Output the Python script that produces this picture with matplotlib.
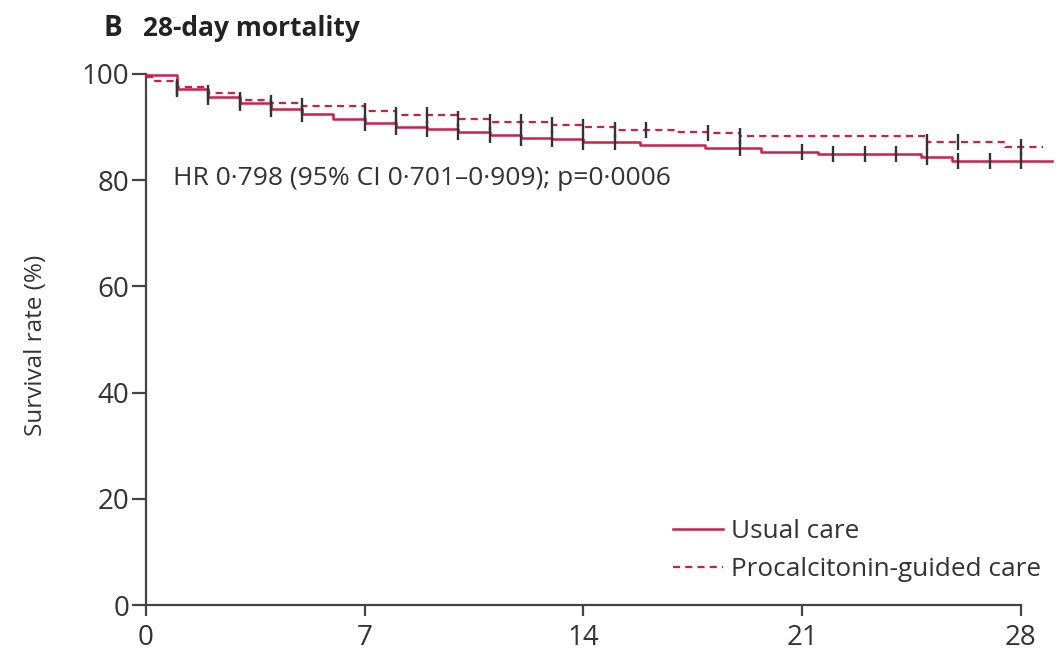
import numpy as np
import matplotlib
matplotlib.use("Agg")
import matplotlib.pyplot as plt
from matplotlib.lines import Line2D

plt.rcParams['font.family'] = ['Open Sans', 'DejaVu Sans']

# Usual care (step times in days, survival %)
usual_t = [0, 1, 2, 3, 4, 5, 6, 7, 8, 9, 10, 11, 12, 13, 14, 15.8, 17.9, 19.7, 21.5, 24.8, 25.8]
usual_s = [99.8, 97.1, 95.7, 94.5, 93.5, 92.4, 91.6, 90.7, 90.1, 89.6, 89.1, 88.5, 87.9, 87.7, 87.2,
           86.6, 86.0, 85.4, 85.0, 84.3, 83.6]
usual_censor = [1, 2, 3, 4, 5, 7, 8, 9, 10, 11, 12, 13, 14, 15, 19, 21, 22, 23, 24, 25, 26, 27, 28]

# Procalcitonin-guided care
pct_t = [0, 0.3, 1, 2, 3, 4, 5, 7, 8, 10, 11, 13, 14, 15, 17, 18, 19, 25, 27.5]
pct_s = [99.5, 98.7, 97.6, 96.4, 95.1, 94.6, 93.9, 93.1, 92.3, 91.5, 91.0, 90.4, 90.1, 89.5, 89.1,
         88.8, 88.4, 87.1, 86.3]
pct_censor = [1, 2, 3, 4, 5, 7, 8, 9, 10, 11, 12, 13, 14, 15, 16, 18, 19, 25, 26, 28]

usual_end = 29.0
pct_end = 28.7

x_ticks = [0, 7, 14, 21, 28]
y_ticks = [0, 20, 40, 60, 80, 100]

red = '#cc1f4a'
grey = '#444444'
txt = '#333333'

def step_value(ts, ss, x):
    idx = np.searchsorted(np.asarray(ts), np.asarray(x), side='right') - 1
    return np.asarray(ss)[idx]

fig = plt.figure(figsize=(10.63, 6.53), dpi=100)
ax = fig.add_axes([146/1063, 1 - 605/653, 906/1063, (605-74)/653])

ut = usual_t + [usual_end]
us = usual_s + [usual_s[-1]]
pt = pct_t + [pct_end]
ps = pct_s + [pct_s[-1]]
dash = (0, (3.2, 2.3))
ax.step(ut, us, where='post', color=red, lw=1.8, clip_on=False, zorder=3)
ax.step(pt, ps, where='post', color=red, lw=1.6, ls=dash, clip_on=False, zorder=3)

ax.plot(usual_censor, step_value(usual_t, usual_s, usual_censor), ls='none', marker='|',
        ms=11, mew=1.7, color='#333333', zorder=4, clip_on=False)
ax.plot(pct_censor, step_value(pct_t, pct_s, pct_censor), ls='none', marker='|',
        ms=11, mew=1.7, color='#333333', zorder=4, clip_on=False)

ax.set_xlim(0, 29)
ax.set_ylim(0, 100)
ax.set_xticks(x_ticks)
ax.set_yticks(y_ticks)
for s in ['top', 'right']:
    ax.spines[s].set_visible(False)
for s in ['left', 'bottom']:
    ax.spines[s].set_color(grey)
    ax.spines[s].set_linewidth(1.6)
ax.spines['bottom'].set_bounds(0, 28)
ax.tick_params(axis='y', direction='out', length=10, width=1.6, color=grey,
               labelsize=20, labelcolor=txt, pad=2)
ax.tick_params(axis='x', direction='out', length=8, width=1.6, color=grey,
               labelsize=20, labelcolor=txt, pad=6)

ax.set_ylabel('Survival rate (%)', fontsize=17.5, color=txt)
ax.yaxis.set_label_coords(-98/906, 0.488)

ax.text(0.85, 80.3, 'HR 0·798 (95% CI 0·701–0·909); p=0·0006', fontsize=19,
        color=txt, va='center', ha='left')

fig.text(103/1063, 1 - 36/653, 'B', fontsize=20, fontweight='bold', color='#222222', va='baseline')
fig.text(143/1063, 1 - 36/653, '28-day mortality', fontsize=19, fontweight='bold', color='#222222',
         va='baseline')

handles = [Line2D([], [], color=red, lw=1.8),
           Line2D([], [], color=red, lw=1.6, ls=dash)]
leg = ax.legend(handles, ['Usual care', 'Procalcitonin-guided care'], loc='lower right',
                bbox_to_anchor=(1054/1063, 1 - 595/653), bbox_transform=fig.transFigure,
                frameon=False, fontsize=18.8, handlelength=1.9, handletextpad=0.3,
                labelspacing=0.5, borderpad=0, labelcolor=txt)

fig.savefig('out.png', dpi=100)
